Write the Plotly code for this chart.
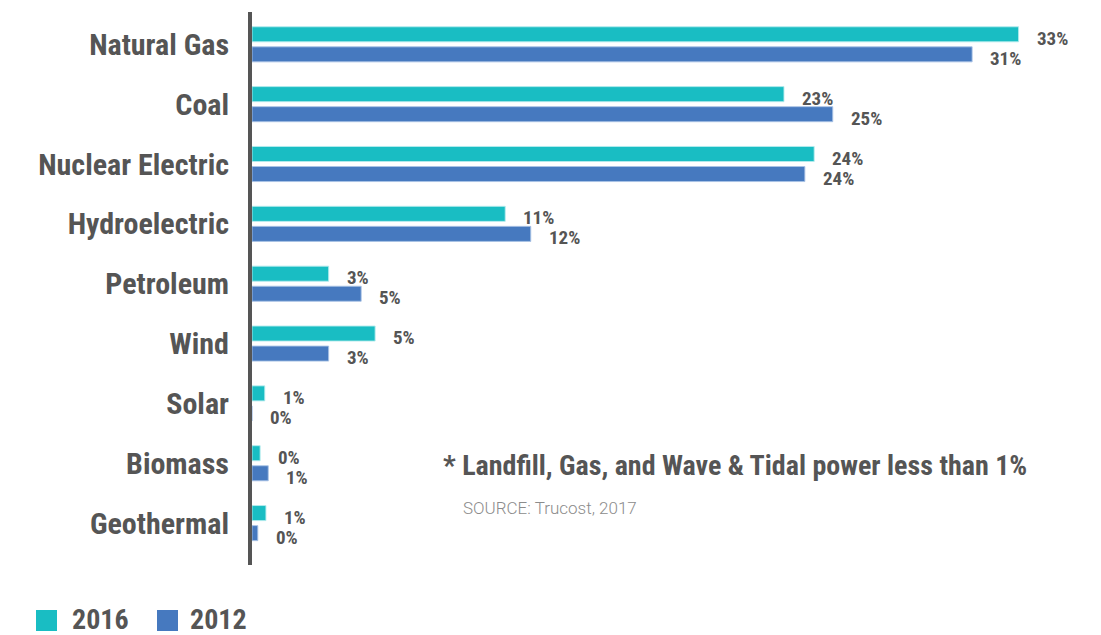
import plotly.graph_objects as go

# Share of US electricity generation by source
sources = ["Natural Gas", "Coal", "Nuclear Electric", "Hydroelectric", "Petroleum",
           "Wind", "Solar", "Biomass", "Geothermal"]
share_2016 = [33.0, 22.9, 24.2, 10.9, 3.3, 5.3, 0.55, 0.35, 0.6]
share_2012 = [31.0, 25.0, 23.8, 12.0, 4.7, 3.3, 0.0, 0.7, 0.25]
series_names = ["2016", "2012"]

TEAL = "#19BDC3"
BLUE = "#4679BF"
DARK = "#555555"
FONT_BOLD = "Roboto Condensed, Liberation Sans Narrow, DejaVu Sans Condensed, Roboto, sans-serif"

W, H = 1101, 635
M_L, M_R, M_T, M_B = 252, 21, 12, 70
PW, PH = W - M_L - M_R, H - M_T - M_B


def px_x(px):
    return (px - M_L) / PW


def px_y(py):
    return (H - M_B - py) / PH


fig = go.Figure()
fig.add_trace(go.Bar(
    name=series_names[0], y=sources, x=share_2016, orientation="h",
    marker=dict(color=TEAL, line=dict(color="rgba(180,235,237,0.9)", width=1)),
    showlegend=False,
))
fig.add_trace(go.Bar(
    name=series_names[1], y=sources, x=share_2012, orientation="h",
    marker=dict(color=BLUE, line=dict(color="rgba(170,195,230,0.9)", width=1)),
    showlegend=False,
))

# value labels to the right of each bar
label_font = dict(family=FONT_BOLD, size=19, color=DARK, weight="bold")
for vals, yshift in ((share_2016, 6), (share_2012, -14)):
    for src, v in zip(sources, vals):
        fig.add_annotation(
            x=v, y=src, xref="x", yref="y", text=f"{v:.0f}%",
            showarrow=False, xanchor="left", yanchor="middle",
            xshift=16, yshift=yshift, font=label_font,
        )

# footnote and source
fig.add_annotation(
    x=px_x(441), y=px_y(465), xref="paper", yref="paper",
    text="* Landfill, Gas, and Wave & Tidal power less than 1%",
    showarrow=False, xanchor="left", yanchor="middle",
    font=dict(family=FONT_BOLD, size=28, color=DARK, weight="bold"),
)
fig.add_annotation(
    x=px_x(461), y=px_y(508), xref="paper", yref="paper",
    text="SOURCE: Trucost, 2017",
    showarrow=False, xanchor="left", yanchor="middle",
    font=dict(family="Roboto, sans-serif", size=17, color="#8C8C8C", weight=300),
)

# legend drawn as swatches + labels along the bottom
legend_items = [(series_names[0], TEAL, 36, 70), (series_names[1], BLUE, 157, 188)]
for name, col, sx, tx in legend_items:
    fig.add_shape(type="rect", xref="paper", yref="paper",
                  x0=px_x(sx), x1=px_x(sx + 21), y0=px_y(631), y1=px_y(610),
                  fillcolor=col, line=dict(width=0))
    fig.add_annotation(
        x=px_x(tx), y=px_y(619), xref="paper", yref="paper", text=name,
        showarrow=False, xanchor="left", yanchor="middle",
        font=dict(family=FONT_BOLD, size=28, color=DARK, weight="bold"),
    )

fig.update_layout(
    width=W, height=H,
    margin=dict(l=M_L, r=M_R, t=M_T, b=M_B),
    paper_bgcolor="white", plot_bgcolor="white",
    barmode="group", bargap=0.33, bargroupgap=0.25,
    xaxis=dict(range=[0, PW / 23.23], visible=False, fixedrange=True),
    yaxis=dict(
        range=[8.70, -0.54], showline=True, linecolor=DARK, linewidth=4,
        showgrid=False, zeroline=False, ticks="", ticklabelstandoff=13,
        tickfont=dict(family=FONT_BOLD, size=30, color=DARK, weight="bold"),
    ),
)

fig.write_html("out.html")
